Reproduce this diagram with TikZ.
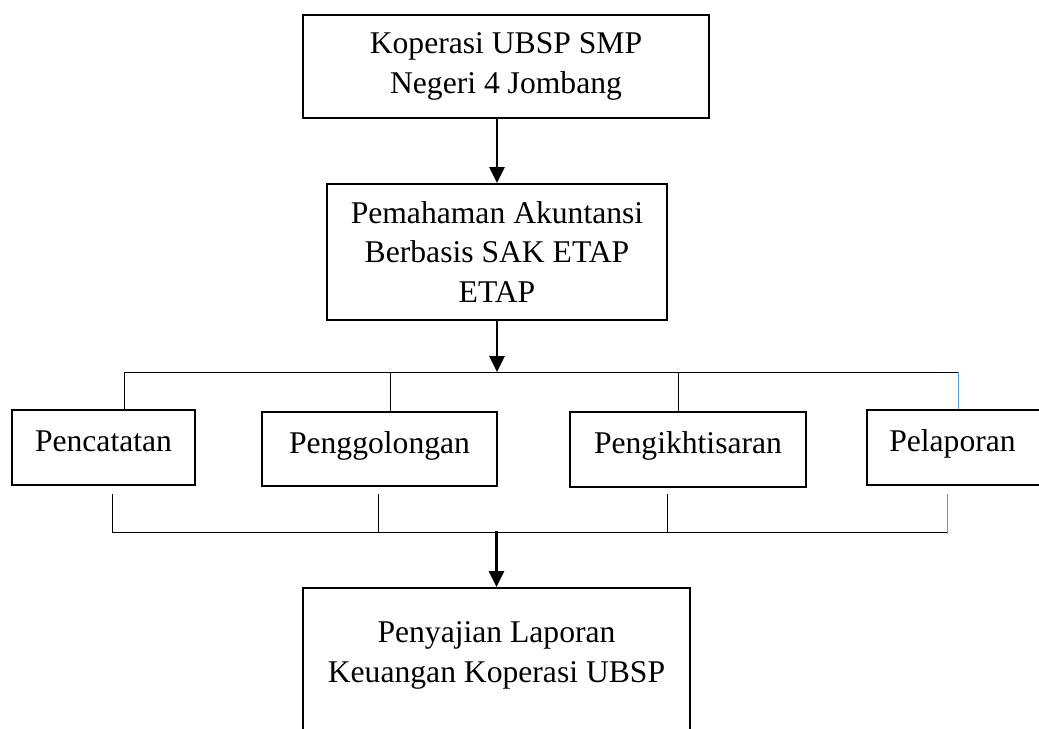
\documentclass[tikz,border=0pt]{standalone}
\usepackage{fontspec}
\setmainfont{Liberation Serif}
\usetikzlibrary{arrows.meta}
\definecolor{linkblue}{RGB}{91,155,213}

\begin{document}
\begin{tikzpicture}[x=0.02cm, y=-0.02cm, box/.style={rectangle, draw, line width=1.1pt, align=center, font=\fontsize{18}{22.7}\selectfont}, rowbox/.style={box, minimum height=1.5cm, text height=12pt, text depth=7pt}, arrow/.style={-{Triangle[width=8.5pt, length=9pt]}, line width=1.3pt}, link/.style={line width=0.5pt}]

  \useasboundingbox (0,0) rectangle (1039,728);

  \node[box, minimum width=8.12cm, minimum height=2.06cm] (koperasi) at (506,66.5) {Koperasi UBSP SMP\\Negeri 4 Jombang};
  \node[box, minimum width=6.8cm, minimum height=2.72cm] (paham) at (497,252) {Pemahaman Akuntansi\\Berbasis SAK ETAP\\ETAP};

  \node[rowbox, minimum width=3.66cm] (catat) at (103.5,447.5) {Pencatatan};
  \node[rowbox, minimum width=4.7cm, minimum height=1.48cm] (golong) at (379.5,449) {Penggolongan};
  \node[rowbox, minimum width=4.72cm] (ikhtisar) at (688,449.5) {Pengikhtisaran};
  \node[rowbox, minimum width=4cm] (lapor) at (967,447.5) {Pelaporan\hspace{0.58cm}};

  \node[box, minimum width=7.74cm, minimum height=3.44cm, text depth=25pt] (sajian) at (496.5,674) {Penyajian Laporan\\Keuangan Koperasi UBSP};

  % garis cabang atas
  \coordinate (ta) at (124,372);
  \coordinate (tb) at (390,372);
  \coordinate (tc) at (678,372);
  \coordinate (td) at (958,372);
  % garis cabang bawah
  \coordinate (ba) at (112,494);
  \coordinate (bb) at (378,494);
  \coordinate (bc) at (667,494);
  \coordinate (bd) at (947,494);
  \coordinate (bbar) at (497,532);

  \draw[arrow] (paham.north |- koperasi.south) -- (paham.north);
  \draw[arrow] (paham) -- (paham |- ta);

  \draw[link] (ta) -- (td);
  \draw[link] (ta) -- (ta |- catat.north);
  \draw[link] (tb) -- (tb |- golong.north);
  \draw[link] (tc) -- (tc |- ikhtisar.north);
  \draw[link, linkblue] (td) -- (td |- lapor.north);

  \draw[link] (ba) -- (ba |- bbar) -- (bd |- bbar);
  \draw[link] (bb) -- (bb |- bbar);
  \draw[link] (bc) -- (bc |- bbar);
  \draw[link, linkblue] (bd) -- ([yshift=-1pt]bd |- bbar);

  \draw[arrow] (bbar) -- (bbar -| sajian.north) -- (sajian.north);
\end{tikzpicture}
\end{document}
